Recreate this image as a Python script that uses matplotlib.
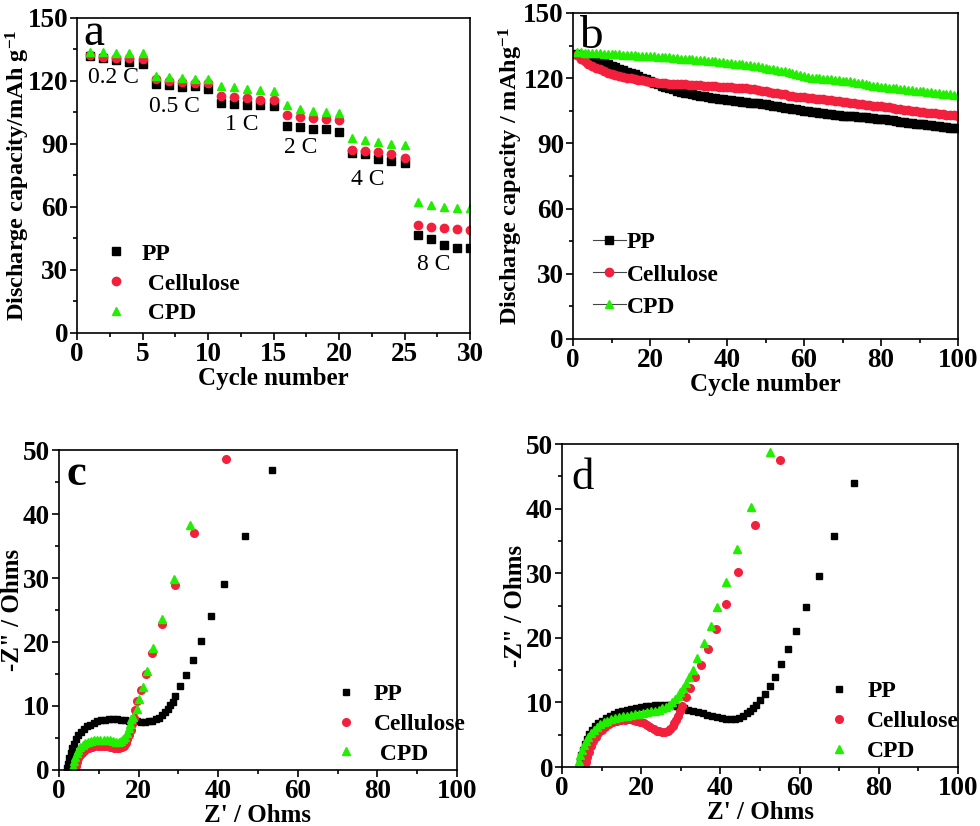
import matplotlib
matplotlib.use("Agg")
import matplotlib.pyplot as plt
from matplotlib.ticker import MultipleLocator

plt.rcParams['font.family'] = ['Liberation Serif', 'DejaVu Serif']
plt.rcParams['mathtext.fontset'] = 'custom'
plt.rcParams['mathtext.rm'] = 'Liberation Serif'
plt.rcParams['mathtext.bf'] = 'Liberation Serif:bold'
plt.rcParams['mathtext.default'] = 'bf'

BLACK = '#000000'
RED = '#f2203c'
GREEN = '#22ee00'

# ---- panel a: rate capability ----
cycles_a = list(range(1, 31))
pp_a = [132, 131, 130, 129, 128, 118.7, 118, 117, 117.5, 116,
        109.5, 109, 108.5, 108.5, 108, 98.4, 98, 97, 97, 95.9,
        85.7, 85, 83, 82, 81, 46.5, 44.8, 42, 40.5, 40.5]
cel_a = [132.5, 131.5, 131, 131, 130.5, 121, 120, 119.5, 119, 119,
         112.7, 112.5, 112, 111, 110.8, 103.8, 102.9, 102.5, 102, 101.6,
         87.3, 86.5, 86, 85, 83.5, 51.3, 50.6, 50, 49.7, 49]
cpd_a = [134, 133.8, 133.5, 133.5, 133.5, 122.5, 122, 121.5, 121, 120.8,
         117.8, 117, 116, 115.5, 115, 108.6, 106.5, 105.8, 105.2, 104.5,
         92.7, 92, 90.8, 90, 89.3, 62.2, 61, 60, 59.7, 59.3]
rate_labels = ['0.2 C', '0.5 C', '1 C', '2 C', '4 C', '8 C']
rate_x = [2.75, 7.46, 12.55, 17.1, 22.2, 27.2]
rate_y = [119, 105, 96.8, 85.7, 70.6, 30.2]

# ---- panel b: cycling ----
cycles_b = list(range(1, 101))
pp_b = [131.0, 130.5, 130.0, 129.4, 128.8, 128.2, 127.7, 127.1, 126.5, 125.8,
        125.1, 124.4, 123.7, 123.0, 122.4, 121.8, 121.1, 120.3, 119.5, 118.7,
        118.0, 117.3, 116.6, 116.0, 115.4, 114.8, 114.3, 113.8, 113.4, 113.0,
        112.6, 112.2, 111.9, 111.6, 111.3, 111.0, 110.7, 110.5, 110.2, 110.0,
        109.8, 109.6, 109.4, 109.2, 109.0, 108.8, 108.6, 108.4, 108.2, 107.9,
        107.6, 107.3, 107.0, 106.7, 106.4, 106.1, 105.8, 105.6, 105.3, 105.1,
        104.8, 104.6, 104.3, 104.1, 103.8, 103.6, 103.4, 103.2, 103.0, 102.8,
        102.7, 102.6, 102.4, 102.3, 102.2, 102.0, 101.8, 101.6, 101.4, 101.2,
        101.0, 100.8, 100.6, 100.3, 100.0, 99.8, 99.6, 99.3, 99.1, 98.9,
        98.7, 98.5, 98.3, 98.1, 97.9, 97.7, 97.5, 97.3, 97.1, 97.0]
cel_b = [130.5, 129.0, 127.8, 126.7, 125.7, 124.8, 124.0, 123.3, 122.6, 122.0,
         121.5, 121.0, 120.6, 120.2, 119.9, 119.6, 119.3, 119.0, 118.7, 118.4,
         118.2, 118.0, 117.8, 117.6, 117.5, 117.4, 117.3, 117.2, 117.1, 117.0,
         116.9, 116.8, 116.7, 116.5, 116.4, 116.3, 116.2, 116.1, 116.0, 115.9,
         115.8, 115.7, 115.6, 115.5, 115.3, 115.1, 114.9, 114.6, 114.3, 114.0,
         113.7, 113.4, 113.1, 112.8, 112.5, 112.0, 111.6, 111.4, 111.3, 111.2,
         111.0, 110.8, 110.6, 110.4, 110.2, 110.0, 109.8, 109.6, 109.4, 109.2,
         109.0, 108.8, 108.6, 108.3, 108.0, 107.8, 107.6, 107.4, 107.2, 107.0,
         106.8, 106.6, 106.3, 106.0, 105.7, 105.4, 105.2, 105.0, 104.8, 104.6,
         104.4, 104.2, 104.0, 103.8, 103.6, 103.4, 103.2, 103.0, 102.9, 102.8]
cpd_b = [132.0, 131.9, 131.8, 131.7, 131.6, 131.5, 131.4, 131.3, 131.2, 131.1,
         131.0, 130.9, 130.8, 130.7, 130.6, 130.5, 130.4, 130.3, 130.2, 130.1,
         130.0, 129.9, 129.8, 129.7, 129.6, 129.4, 129.2, 129.0, 128.8, 128.7,
         128.6, 128.5, 128.4, 128.3, 128.1, 127.9, 127.7, 127.5, 127.3, 127.1,
         126.9, 126.7, 126.5, 126.3, 126.1, 125.9, 125.7, 125.4, 125.0, 124.6,
         124.3, 124.0, 123.7, 123.4, 123.1, 122.8, 122.5, 122.0, 121.4, 120.8,
         120.5, 120.3, 120.1, 119.9, 119.7, 119.6, 119.5, 119.3, 119.1, 118.9,
         118.7, 118.5, 118.3, 118.0, 117.6, 117.2, 116.8, 116.5, 116.3, 116.1,
         115.9, 115.7, 115.5, 115.3, 115.1, 114.9, 114.7, 114.5, 114.3, 114.1,
         113.9, 113.7, 113.5, 113.3, 113.1, 112.9, 112.7, 112.5, 112.4, 112.2]

# ---- panel c: impedance (fresh) ----
pp_c_x = [2.0, 2.2, 2.5, 2.9, 3.3, 3.8, 4.3, 4.9, 5.5, 6.2, 7.0, 7.8, 8.7, 9.6,
          10.6, 11.6, 12.6, 13.6, 14.6, 15.6, 16.6, 17.6, 18.6, 19.6, 20.6,
          21.6, 22.5, 23.4, 24.3, 25.1, 25.9, 26.6, 27.3, 28.0, 28.6, 29.2,
          30.5, 32.0, 33.6, 35.7, 38.3, 41.5, 46.7, 53.6]
pp_c_y = [0.3, 1.0, 1.8, 2.6, 3.4, 4.1, 4.8, 5.4, 5.9, 6.4, 6.8, 7.1, 7.4, 7.6,
          7.75, 7.85, 7.9, 7.9, 7.9, 7.85, 7.8, 7.7, 7.65, 7.6, 7.55, 7.55,
          7.6, 7.7, 7.9, 8.2, 8.6, 9.0, 9.5, 10.1, 10.7, 11.6, 13.1, 14.8,
          17.2, 20.2, 24.1, 29.1, 36.6, 46.9]
cel_c_x = [4.0, 4.2, 4.5, 4.9, 5.3, 5.8, 6.3, 6.9, 7.5, 8.2, 8.9, 9.7, 10.5,
           11.3, 12.1, 12.9, 13.7, 14.5, 15.2, 15.8, 16.3, 16.8, 17.2, 17.6,
           18.0, 18.4, 18.8, 19.2, 19.6, 20.6, 21.8, 23.4, 25.8, 29.1, 33.9, 42.0]
cel_c_y = [0.0, 0.6, 1.2, 1.8, 2.3, 2.7, 3.0, 3.3, 3.5, 3.65, 3.75, 3.8, 3.8,
           3.75, 3.7, 3.6, 3.5, 3.45, 3.45, 3.55, 3.8, 4.2, 4.8, 5.5, 6.3, 7.2,
           8.2, 9.3, 10.8, 12.5, 15.0, 18.3, 22.8, 28.9, 37.0, 48.6]
cpd_c_x = [3.2, 3.4, 3.7, 4.0, 4.4, 4.9, 5.4, 6.0, 6.6, 7.3, 8.0, 8.8, 9.6,
           10.4, 11.2, 12.0, 12.8, 13.6, 14.4, 15.1, 15.7, 16.2, 16.7, 17.1,
           17.5, 17.9, 18.2, 18.6, 19.5, 20.1, 21.1, 22.1, 23.7, 25.9, 29.0, 33.0]
cpd_c_y = [0.0, 0.7, 1.4, 2.1, 2.7, 3.2, 3.6, 3.95, 4.2, 4.4, 4.55, 4.65, 4.7,
           4.75, 4.75, 4.7, 4.65, 4.55, 4.45, 4.4, 4.5, 4.8, 5.2, 5.8, 6.5,
           7.2, 7.9, 8.3, 9.6, 11.1, 13.0, 15.5, 19.0, 23.6, 29.9, 38.3]

# ---- panel d: impedance (after cycling) ----
pp_d_x = [4.4, 4.6, 4.9, 5.3, 5.8, 6.3, 6.9, 7.6, 8.4, 9.2, 10.1, 11.0, 12.0,
          13.0, 14.1, 15.2, 16.3, 17.5, 18.7, 19.9, 21.1, 22.3, 23.5, 24.7,
          25.9, 27.1, 28.3, 29.5, 30.7, 31.9, 33.1, 34.3, 35.5, 36.7, 37.9,
          39.1, 40.3, 41.5, 42.6, 43.7, 44.7, 45.7, 46.6, 47.4, 48.1, 49.1,
          50.1, 51.3, 52.4, 53.7, 55.3, 57.1, 59.2, 61.7, 64.8, 68.8, 73.7]
pp_d_y = [0.0, 0.9, 1.8, 2.7, 3.6, 4.4, 5.1, 5.7, 6.3, 6.8, 7.2, 7.6, 7.9, 8.2,
          8.45, 8.7, 8.85, 9.0, 9.15, 9.3, 9.4, 9.5, 9.55, 9.6, 9.6, 9.55,
          9.45, 9.3, 9.1, 8.9, 8.7, 8.5, 8.3, 8.1, 7.9, 7.7, 7.55, 7.45, 7.4,
          7.45, 7.6, 7.9, 8.3, 8.7, 9.1, 9.6, 10.3, 11.3, 12.5, 14.0, 15.9,
          18.2, 21.1, 24.8, 29.6, 35.8, 44.0]
cel_d_x = [5.8, 6.0, 6.3, 6.7, 7.2, 7.8, 8.5, 9.2, 10.0, 10.9, 11.8, 12.8,
           13.8, 14.8, 15.8, 16.8, 17.8, 18.8, 19.7, 20.6, 21.5, 22.3, 23.1,
           23.9, 24.6, 25.3, 26.0, 26.7, 27.3, 27.9, 28.4, 28.9, 29.3, 29.7,
           30.3, 31.3, 32.3, 33.6, 35.1, 36.9, 39.0, 41.5, 44.4, 48.8, 55.1]
cel_d_y = [0.0, 0.8, 1.6, 2.4, 3.2, 4.0, 4.7, 5.3, 5.8, 6.2, 6.6, 6.9, 7.1,
           7.25, 7.35, 7.4, 7.35, 7.2, 7.0, 6.75, 6.5, 6.2, 5.9, 5.65, 5.5,
           5.4, 5.45, 5.6, 5.9, 6.3, 6.8, 7.3, 7.9, 8.6, 9.4, 10.8, 12.2, 13.9,
           15.8, 18.3, 21.3, 25.3, 30.2, 37.4, 47.6]
cpd_d_x = [4.1, 4.3, 4.6, 5.0, 5.5, 6.0, 6.6, 7.3, 8.0, 8.8, 9.6, 10.5, 11.4,
           12.4, 13.4, 14.4, 15.4, 16.4, 17.4, 18.4, 19.4, 20.4, 21.4, 22.4,
           23.4, 24.4, 25.3, 26.2, 27.0, 27.8, 28.5, 29.2, 29.9, 30.6, 31.3,
           32.1, 33.0, 34.2, 35.9, 37.5, 39.1, 41.5, 44.2, 47.7, 52.4]
cpd_d_y = [0.0, 0.9, 1.8, 2.6, 3.4, 4.1, 4.7, 5.3, 5.8, 6.25, 6.6, 6.9, 7.15,
           7.4, 7.6, 7.75, 7.85, 7.95, 8.05, 8.15, 8.25, 8.35, 8.45, 8.6, 8.75,
           8.9, 9.1, 9.35, 9.65, 10.0, 10.5, 11.0, 11.6, 12.3, 13.0, 13.9,
           15.0, 16.9, 19.2, 21.8, 24.7, 28.6, 33.7, 40.2, 48.8]


def style_axes(ax, xmax, xmaj, ymax, ymaj):
    ax.set_xlim(0, xmax)
    ax.set_ylim(0, ymax)
    ax.xaxis.set_major_locator(MultipleLocator(xmaj))
    ax.xaxis.set_minor_locator(MultipleLocator(xmaj / 2))
    ax.yaxis.set_major_locator(MultipleLocator(ymaj))
    ax.yaxis.set_minor_locator(MultipleLocator(ymaj / 2))
    ax.tick_params(which='both', direction='out', top=False, right=False,
                   width=1.2)
    ax.tick_params(which='major', length=5, labelsize=19.5, pad=1.5)
    ax.tick_params(which='minor', length=3)
    for lab in ax.get_xticklabels() + ax.get_yticklabels():
        lab.set_fontweight('bold')
    for sp in ax.spines.values():
        sp.set_linewidth(1.2)


fig = plt.figure(figsize=(9.8, 8.26), dpi=100)

# panel a
ax = fig.add_axes([0.0786, 0.5969, 0.401, 0.3814])
ax.plot(cycles_a, pp_a, 's', color=BLACK, ms=5.5, label='PP')
ax.plot(cycles_a, cel_a, 'o', color=RED, ms=6, label=' Cellulose')
ax.plot(cycles_a, cpd_a, '^', color=GREEN, ms=6, label=' CPD')
for t, x, y in zip(rate_labels, rate_x, rate_y):
    ax.text(x, y, t, fontsize=17, ha='center', va='baseline')
style_axes(ax, 30, 5, 150, 30)
ax.set_xlabel('Cycle number', fontsize=18, fontweight='bold', labelpad=0)
ax.set_ylabel('Discharge capacity/mAh g$^{-1}$', fontsize=17.5,
              fontweight='bold', labelpad=-3)
ax.text(0.015, 0.914, 'a', transform=ax.transAxes, fontsize=34,
        va='baseline')
ax.legend(loc='lower left', bbox_to_anchor=(0.015, -0.04), frameon=False,
          prop={'weight': 'bold', 'size': 17}, handlelength=1.0,
          handletextpad=0.6, labelspacing=0.35)

# panel b
ax = fig.add_axes([0.5847, 0.5896, 0.3929, 0.3947])
ax.plot(cycles_b, pp_b, '-s', color='#444444', mfc=BLACK, mec=BLACK,
        ms=5.5, lw=0.8, label='PP')
ax.plot(cycles_b, cel_b, '-o', color='#444444', mfc=RED, mec=RED,
        ms=6, lw=0.8, label='Cellulose')
ax.plot(cycles_b, cpd_b, '-^', color='#444444', mfc=GREEN, mec=GREEN,
        ms=6, lw=0.8, label='CPD')
style_axes(ax, 100, 20, 150, 30)
ax.set_xlabel('Cycle number', fontsize=18, fontweight='bold', labelpad=0)
ax.set_ylabel('Discharge capacity / mAhg$^{-1}$', fontsize=17.5,
              fontweight='bold', labelpad=-1)
ax.text(0.016, 0.893, 'b', transform=ax.transAxes, fontsize=34,
        va='baseline')
ax.legend(loc='lower left', bbox_to_anchor=(-0.004, 0.0), frameon=False,
          prop={'weight': 'bold', 'size': 17}, handlelength=1.4,
          handletextpad=0.05, labelspacing=0.45)

# panel c and d
panels = [
    ([0.0602, 0.0678, 0.4061, 0.3874], 'c', 'bold', (0.02, 0.89), -1,
     (pp_c_x, pp_c_y), (cel_c_x, cel_c_y), (cpd_c_x, cpd_c_y),
     (0.637, -0.05)),
    ([0.5735, 0.0714, 0.4041, 0.391], 'd', 'normal', (0.023, 0.86), -1,
     (pp_d_x, pp_d_y), (cel_d_x, cel_d_y), (cpd_d_x, cpd_d_y),
     (0.616, -0.05)),
]
for rect, letter, lw, lpos, ypad, pp, cel, cpd, legpos in panels:
    ax = fig.add_axes(rect)
    ax.plot(pp[0], pp[1], 's', color=BLACK, ms=5, label='PP')
    ax.plot(cel[0], cel[1], 'o', color=RED, ms=5.5, label='Cellulose')
    ax.plot(cpd[0], cpd[1], '^', color=GREEN, ms=5.5,
            label=' CPD' if letter == 'c' else 'CPD')
    style_axes(ax, 100, 20, 50, 10)
    ax.set_xlabel("Z' / Ohms", fontsize=18, fontweight='bold', labelpad=0)
    ax.set_ylabel('-Z" / Ohms', fontsize=18, fontweight='bold', labelpad=ypad)
    ax.text(lpos[0], lpos[1], letter, transform=ax.transAxes, fontsize=32,
            fontweight=lw, va='baseline')
    ax.legend(loc='lower left', bbox_to_anchor=legpos, frameon=False,
              prop={'weight': 'bold', 'size': 17}, handlelength=1.0,
              handletextpad=0.7, labelspacing=0.35)

fig.savefig('out.png', dpi=100)
